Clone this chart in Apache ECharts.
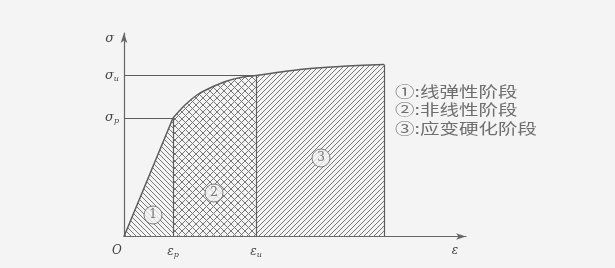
<!DOCTYPE html>
<html lang="zh">
<head>
<meta charset="UTF-8">
<title>应力-应变曲线</title>
<script src="https://cdnjs.cloudflare.com/ajax/libs/echarts/6.0.0/echarts.min.js"></script>
<style>
  html, body { margin: 0; padding: 0; background: #f4f4f4; }
  #chart { width: 615px; height: 268px; }
</style>
</head>
<body>
<div id="chart"></div>
<script>
// 特征点 (读图估计, 任意单位)
const epsP = 49, epsU = 132, epsEnd = 260;
const sigP = 118.5, sigU = 161, sigEnd = 172;

// 三段曲线
const elasticCurve = [[0, 0], [49, 118.5]];
const nonlinearCurve = [[49, 118.5], [61, 131.5], [73, 141.5], [86, 148.5], [103, 155.5], [119, 159.5], [132, 161]];
const hardeningCurve = [[132, 161], [176, 167], [216, 170], [260, 172]];

// 区域编号及其位置
const stageMarks = [['1', 29, 21.5], ['2', 90, 43.5], ['3', 197, 78.5]];
const stageNames = ['①:线弹性阶段', '②:非线性阶段', '③:应变硬化阶段'];

// 坐标轴标签
const xTickValues = [0, epsP, epsU, 331];
const xTickLabels = ['{o|O}', '{e|ε}{sub|p}', '{e|ε}{sub|u}', '{e|ε}'];
const yTickValues = [sigP, sigU];
const yTickLabels = ['{s|σ}{sub|p}', '{s|σ}{sub|u}'];

const lineColor = '#5c5c5c';
const hatchColor = '#767676';

// 阴影填充图案
function hatch(size, dirs) {
  const c = document.createElement('canvas');
  c.width = size; c.height = size;
  const g = c.getContext('2d');
  g.strokeStyle = hatchColor;
  g.lineWidth = 1;
  dirs.forEach(d => {
    g.beginPath();
    if (d === '\\') {
      g.moveTo(-1, -1); g.lineTo(size + 1, size + 1);
      g.moveTo(-1, size - 1); g.lineTo(1, size + 1);
      g.moveTo(size - 1, -1); g.lineTo(size + 1, 1);
    } else {
      g.moveTo(-1, size + 1); g.lineTo(size + 1, -1);
      g.moveTo(-1, 1); g.lineTo(1, -1);
      g.moveTo(size - 1, size + 1); g.lineTo(size + 1, size - 1);
    }
    g.stroke();
  });
  return { image: c, repeat: 'repeat' };
}

const serifItalic = { fontFamily: 'DejaVu Serif', fontStyle: 'italic', color: '#444' };
const richLabels = {
  o: Object.assign({ fontSize: 12, padding: [0, 14, 0, 0] }, serifItalic),
  e: Object.assign({ fontSize: 12 }, serifItalic),
  s: Object.assign({ fontSize: 13 }, serifItalic),
  sub: Object.assign({ fontSize: 8, padding: [6, 0, 0, 0] }, serifItalic)
};

const chart = echarts.init(document.getElementById('chart'));

const solid = { color: lineColor, width: 1.5 };

chart.setOption({
  backgroundColor: '#f4f4f4',
  animation: false,
  grid: { left: 124, right: 149, top: 33, bottom: 31.5 },
  xAxis: {
    type: 'value', min: 0, max: 342,
    axisLine: { show: true, lineStyle: { color: '#666', width: 1.2 }, symbol: ['none', 'arrow'], symbolSize: [5, 10] },
    axisTick: { show: false },
    splitLine: { show: false },
    axisLabel: {
      customValues: xTickValues, margin: 8,
      formatter: v => xTickLabels[xTickValues.indexOf(v)],
      rich: richLabels
    }
  },
  yAxis: {
    type: 'value', min: 0, max: 203.5,
    name: 'σ', nameLocation: 'end', nameGap: -12,
    nameTextStyle: Object.assign({ fontSize: 13, align: 'right', padding: [0, 10, 0, 0] }, serifItalic),
    axisLine: { show: true, lineStyle: { color: '#666', width: 1.2 }, symbol: ['none', 'arrow'], symbolSize: [5, 10] },
    axisTick: { show: false },
    splitLine: { show: false },
    axisLabel: {
      customValues: yTickValues, margin: 5,
      formatter: v => yTickLabels[yTickValues.indexOf(v)],
      rich: richLabels
    }
  },
  graphic: [{
    type: 'text', x: 395, y: 82, scaleX: 1.3,
    style: {
      text: stageNames.join('\n'),
      font: '15px "Noto Sans CJK SC"',
      fill: '#6e6e6e', lineHeight: 18.5, verticalAlign: 'top'
    }
  }],
  series: [
    {
      type: 'line', data: elasticCurve, symbol: 'none', lineStyle: solid,
      areaStyle: { color: hatch(5, ['\\']), opacity: 1 },
      markLine: {
        silent: true, symbol: 'none', label: { show: false },
        lineStyle: { color: lineColor, width: 1.2, type: 'solid' },
        data: [
          [{ coord: [0, sigP] }, { coord: [epsP, sigP] }],
          [{ coord: [0, sigU] }, { coord: [epsU, sigU] }],
          [{ coord: [epsP, 0] }, { coord: [epsP, sigP] }],
          [{ coord: [epsU, 0] }, { coord: [epsU, sigU] }],
          [{ coord: [epsEnd, 0] }, { coord: [epsEnd, sigEnd] }]
        ]
      }
    },
    {
      type: 'line', data: nonlinearCurve, symbol: 'none', smooth: 0.3, lineStyle: solid,
      areaStyle: { color: hatch(7, ['\\', '/']), opacity: 1 }
    },
    {
      type: 'line', data: hardeningCurve, symbol: 'none', smooth: 0.3, lineStyle: solid,
      areaStyle: { color: hatch(5, ['/']), opacity: 1 }
    },
    {
      type: 'scatter', symbol: 'circle', symbolSize: 18, z: 5,
      data: stageMarks.map(m => ({ name: m[0], value: [m[1], m[2]] })),
      itemStyle: { color: '#f2f2f2', borderColor: '#666', borderWidth: 1 },
      label: {
        show: true, position: 'inside', formatter: p => p.name,
        fontFamily: 'DejaVu Serif', fontSize: 12, color: '#555'
      }
    }
  ]
});
</script>
</body>
</html>
